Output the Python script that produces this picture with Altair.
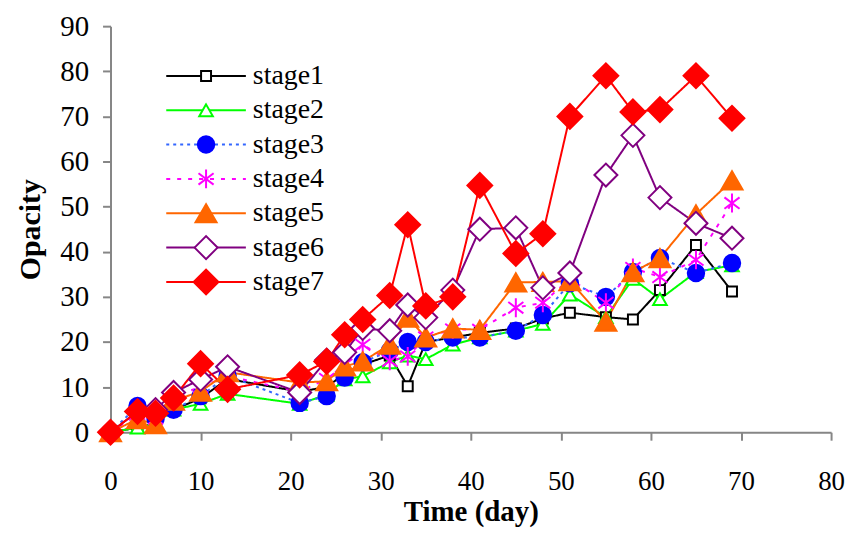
import altair as alt
import pandas as pd

days = [0, 3, 5, 7, 10, 13, 21, 24, 26, 28, 31, 33, 35, 38, 41, 45, 48, 51, 55, 58, 61, 65, 69]
stages = ["stage1", "stage2", "stage3", "stage4", "stage5", "stage6", "stage7"]

stage1 = [0, 1, 2, 5, 7.5, 11.8, 9, 10, 13, 15, 17, 10.2, 20, 21, 22, 23, 25.2, 26.5, 25.5, 25, 31.5, 41.5, 31.2]
stage2 = [0, 1, 2, 5, 6.3, 8.5, 6.3, 8.3, 11.7, 12.4, 15.5, 17, 16.2, 19.4, 21, 22.5, 24, 30.5, 25.5, 34, 29.5, 35.5, 37]
stage3 = [0, 5.8, 3, 5, 8, 12.5, 6.5, 8, 12.1, 15.5, 18, 20, 20, 21, 21, 22.5, 26, 33, 30, 35.5, 38.6, 35.3, 37.5]
stage4 = [0, 4, 3, 8, 10, 12.4, 9, 11.8, 15, 19.4, 15.8, 16.8, 21, 22.8, 22.7, 27.6, 28.7, 34, 28.7, 36.4, 34.4, 38.2, 50.8]
stage5 = [0, 2.9, 1.8, 7, 9, 13.3, 11, 11.3, 14.6, 15.7, 19.4, 25.4, 21, 23, 22.7, 33.2, 33.3, 33.5, 24.5, 35.5, 38.6, 48.3, 55.8]
stage6 = [0, 4.6, 5, 8.8, 11.7, 14.5, 8.8, 16, 17.7, 23, 22.5, 28.2, 25.4, 31.5, 45, 45.3, 32, 35.3, 57, 65.8, 52, 46.3, 43]
stage7 = [0, 4.6, 4.2, 7.6, 15.2, 9.5, 12.7, 15.7, 21.6, 25, 30.3, 46, 28, 30, 54.7, 39.6, 44, 70, 79, 71, 71.5, 79, 69.6]
series = [stage1, stage2, stage3, stage4, stage5, stage6, stage7]

x_ticks = [0, 10, 20, 30, 40, 50, 60, 70, 80]
y_ticks = [0, 10, 20, 30, 40, 50, 60, 70, 80, 90]

rows = []
for name, vals in zip(stages, series):
    for d, v in zip(days, vals):
        rows.append({"stage": name, "day": d, "value": v})
df = pd.DataFrame(rows)
legend_df = pd.DataFrame({"stage": stages})

FONT = "Liberation Serif"
line_colors = ["#000000", "#00FF00", "#3366FF", "#FF00FF", "#FF6600", "#800080", "#FF0000"]
marker_strokes = ["#000000", "#00FF00", "#0000FF", "#FF00FF", "#FF6600", "#800080", "#FF0000"]
marker_fills = ["#FFFFFF", "#FFFFFF", "#0000FF", "#FF00FF", "#FF6600", "#FFFFFF", "#FF0000"]
marker_widths = [2, 2, 1, 2, 1, 2, 1]
asterisk = "M0,-1L0,1M-0.8,-0.6L0.8,0.6M-0.8,0.6L0.8,-0.6"
shapes = ["square", "triangle-up", "circle", asterisk, "triangle-up", "diamond", "diamond"]
sizes = [100, 620, 330, 300, 140, 380, 130]
dashes = [[1, 0], [1, 0], [3, 4], [4, 7], [1, 0], [1, 0], [1, 0]]

color_scale = alt.Scale(domain=stages, range=line_colors)
stroke_scale = alt.Scale(domain=stages, range=marker_strokes)
fill_scale = alt.Scale(domain=stages, range=marker_fills)
shape_scale = alt.Scale(domain=stages, range=shapes)
size_scale = alt.Scale(domain=stages, range=sizes)
sw_scale = alt.Scale(domain=stages, range=marker_widths)
dash_scale = alt.Scale(domain=stages, range=dashes)

x_enc = alt.X("day:Q", scale=alt.Scale(domain=[0, 80], nice=False),
              axis=alt.Axis(values=x_ticks, title="Time (day)", labelPadding=29,
                            labelFontSize=27, titleFontSize=29,
                            titleY=89, titleBaseline="alphabetic"))
y_enc = alt.Y("value:Q", scale=alt.Scale(domain=[0, 90], nice=False),
              axis=alt.Axis(values=y_ticks, title="Opacity", labelPadding=14,
                            titlePadding=14))

base = alt.Chart(df)
lines = base.mark_line(strokeWidth=2).encode(
    x=x_enc, y=y_enc,
    color=alt.Color("stage:N", scale=color_scale, legend=None),
    strokeDash=alt.StrokeDash("stage:N", scale=dash_scale, legend=None),
    detail="stage:N",
)
points = base.mark_point(opacity=1, fillOpacity=1).encode(
    x="day:Q", y="value:Q",
    shape=alt.Shape("stage:N", scale=shape_scale, legend=None),
    size=alt.Size("stage:N", scale=size_scale, legend=None),
    fill=alt.Fill("stage:N", scale=fill_scale, legend=None),
    stroke=alt.Stroke("stage:N", scale=stroke_scale, legend=None),
    strokeWidth=alt.StrokeWidth("stage:N", scale=sw_scale, legend=None),
    order=alt.Order("stage:N"),
)
main = alt.layer(lines, points)

leg_y = alt.Y("stage:N", axis=None,
              scale=alt.Scale(type="point", domain=stages, range=[50, 257], padding=0))
leg = alt.Chart(legend_df)
leg_rule = leg.mark_rule(strokeWidth=2).encode(
    x=alt.value(56), x2=alt.value(136), y=leg_y,
    color=alt.Color("stage:N", scale=color_scale, legend=None),
    strokeDash=alt.StrokeDash("stage:N", scale=dash_scale, legend=None),
)
leg_pt = leg.mark_point(opacity=1, fillOpacity=1).encode(
    x=alt.value(96), y=leg_y,
    shape=alt.Shape("stage:N", scale=shape_scale, legend=None),
    size=alt.Size("stage:N", scale=size_scale, legend=None),
    fill=alt.Fill("stage:N", scale=fill_scale, legend=None),
    stroke=alt.Stroke("stage:N", scale=stroke_scale, legend=None),
    strokeWidth=alt.StrokeWidth("stage:N", scale=sw_scale, legend=None),
)
leg_txt = leg.mark_text(align="left", baseline="middle", font=FONT, fontSize=28,
                        color="#000000").encode(
    x=alt.value(143), y=leg_y, text="stage:N")
legend_layer = alt.layer(leg_rule, leg_pt, leg_txt)

chart = alt.layer(main, legend_layer).resolve_scale(y="independent").properties(
    width=724, height=408,
    autosize=alt.AutoSizeParams(type="none"),
    padding={"left": 103, "top": 17, "right": 16, "bottom": 96},
    background="#FFFFFF",
).configure_view(stroke=None).configure_axis(
    grid=False,
    domainColor="#868686", domainWidth=2,
    tickColor="#868686", tickWidth=2, tickSize=8,
    labelFont=FONT, labelFontSize=29, labelColor="#000000",
    titleFont=FONT, titleFontSize=30, titleFontWeight="bold", titleColor="#000000",
    labelOverlap=False, labelFlush=False,
)

chart.save("out.html", embed_options={"renderer": "svg", "actions": False})
